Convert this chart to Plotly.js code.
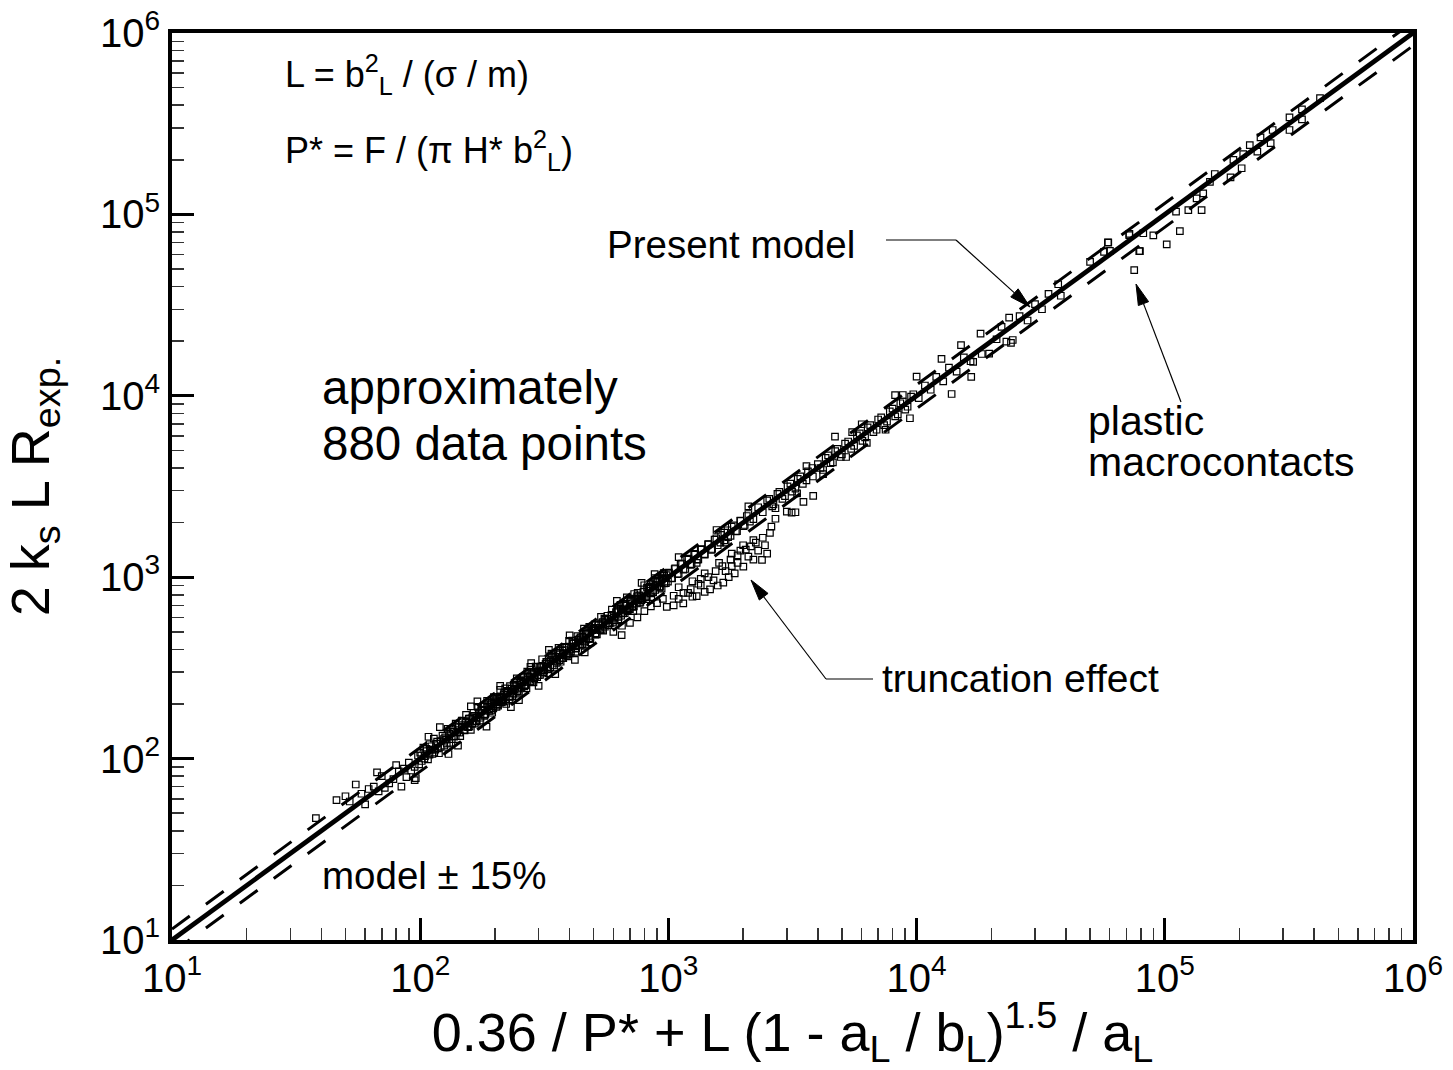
<!DOCTYPE html>
<html><head><meta charset="utf-8">
<script src="https://cdn.plot.ly/plotly-3.0.1.min.js"></script>
<style>html,body{margin:0;padding:0;background:#fff}#chart{width:1453px;height:1070px}</style>
</head><body><div id="chart"></div>
<script>
const lowRange = [[38,47],[46,59],[50,62],[52,58],[55,72],[58,64],[60,56],[62,68],[65,70],[67,84],[68,66],[70,80],[72,69],[75,73],[78,77],[80,92],[82,85],[84,70],[86,88],[88,79],[90,95],[92,86],[95,90],[95,76],[96,78],[98,104],[99,93]];
const range100 = [[100,108],[101.5,97],[103,115],[104.5,103],[106,110],[107.5,99],[109,120],[110.5,112],[112,106],[113.5,129],[115,112],[117,124],[119,107],[121,125],[123,134],[125,118],[127,127],[129,146],[131,122],[133,140],[135,146],[137,132],[139,156],[141,140],[143,149],[145,133],[147,162],[149,150],[151,143],[153,174],[155,150],[157,166],[160,144],[162,167],[164,179],[166,156],[168,168],[171,193],[174,162],[177,186],[180,194],[183,176],[186,208],[189,187],[192,200],[195,179],[198,218],[108,132],[130,106],[160,194],[185,150],[120,149],[142,118],[170,207]];
const range100b = [[101,104],[104,100],[106,113],[109,105],[111,117],[114,108],[116,121],[118,114],[121,116],[124,128],[126,131],[128,121],[131,137],[134,128],[136,141],[139,133],[142,149],[144,139],[147,153],[150,144],[153,158],[156,149],[159,166],[162,156],[165,172],[168,161],[172,180],[175,168],[178,184],[182,174],[186,193],[190,183],[194,203],[197,189]];
const range200 = [[202,204],[206,196],[210,239],[214,208],[218,231],[222,200],[226,233],[230,251],[235,221],[240,240],[245,277],[250,233],[255,268],[260,281],[265,254],[270,302],[275,272],[280,291],[286,263],[292,321],[298,301],[304,289],[310,353],[316,307],[322,341],[328,295],[334,344],[340,371],[347,326],[354,354],[361,408],[368,342],[375,394],[382,413],[390,374],[398,446],[406,402],[414,431],[422,388],[430,473],[439,443],[448,426],[457,521],[466,452],[475,504],[485,437],[495,510],[204,214],[212,210],[220,244],[228,212],[238,255],[248,243],[258,263],[268,244],[278,320],[290,281],[302,320],[314,320],[326,310],[338,379],[350,364],[364,349],[378,382],[394,366],[410,447],[426,417],[444,466],[462,425],[480,533],[210,252],[250,210],[300,252],[280,336],[350,292],[400,478],[420,350],[460,385],[232,192],[330,398]];
const range200b = [[201,210],[205,199],[209,217],[213,204],[217,226],[221,213],[225,236],[229,220],[233,243],[237,228],[242,251],[246,236],[251,262],[256,246],[261,273],[266,255],[272,283],[277,266],[283,296],[288,277],[294,306],[300,288],[307,321],[313,300],[320,333],[327,313],[335,349],[342,328],[350,364],[357,343],[365,381],[373,358],[381,397],[389,373],[397,414],[405,389],[414,431],[423,406],[432,451],[441,423],[451,470],[460,442],[470,490],[480,461],[490,511]];
const range500 = [[505,550],[515,484],[525,525],[535,605],[546,508],[557,585],[568,613],[580,557],[592,663],[604,598],[616,641],[628,578],[641,705],[654,661],[667,634],[680,775],[694,673],[708,750],[722,650],[737,759],[752,820],[767,721],[783,783],[799,903],[815,758],[832,874],[849,917],[866,831],[884,990],[902,893],[920,957],[939,864],[958,1054],[977,987],[996,946],[510,525],[530,514],[552,591],[574,580],[598,562],[622,659],[648,635],[674,701],[700,665],[728,808],[757,757],[788,764],[820,877],[853,776],[888,906],[924,887],[962,1020],[600,500],[650,540],[700,560],[750,600],[800,650],[850,690],[900,720],[950,760],[648,479],[620,740],[780,930],[880,1040]];
const range500b = [[500,521],[510,490],[521,543],[532,511],[543,566],[555,533],[567,591],[579,556],[591,616],[604,580],[617,643],[630,605],[643,670],[657,631],[671,699],[685,658],[700,730],[715,686],[730,761],[746,716],[762,794],[778,747],[795,829],[812,780],[830,865],[848,814],[866,903],[885,850],[904,942],[923,886],[943,983],[963,925],[984,1026]];
const band150c = [[152,160],[158,150],[163,171],[169,160],[176,184],[181,172],[188,197],[193,184],[199,207],[203,193],[208,219],[216,206],[223,234],[231,219],[239,251],[247,235],[254,266],[263,250],[271,285],[279,266],[287,301],[296,281],[305,320],[315,299],[324,340],[334,318],[344,361],[355,337],[366,384],[377,358],[388,408],[400,380],[412,433],[425,404],[438,460],[451,428],[465,488],[479,455],[493,518],[508,483],[523,549],[539,512],[556,584],[572,544],[590,620],[608,577],[626,657],[645,613],[664,697],[684,650],[705,740],[726,690],[748,785],[771,732],[794,834],[818,777],[842,884],[868,825],[894,939],[921,875],[948,996],[977,928],[1005,1060],[1035,985],[1065,1120],[1100,1045],[1135,1190],[1170,1110],[1205,1265],[1240,1180],[1280,1345],[1320,1255],[1360,1430],[1400,1330],[1445,1515],[1490,1415],[1535,1610],[1580,1500],[1630,1710],[1680,1595],[1730,1815],[1780,1690],[1835,1930],[1890,1795],[1950,2045],[2010,1910],[2070,2175],[2130,2025]];
const truncation = [[985,687],[1050,700],[1100,760],[1148,718],[1200,820],[1250,780],[1300,787],[1350,900],[1400,830],[1472,857],[1520,960],[1580,900],[1664,933],[1700,1080],[1750,1000],[1800,1150],[1850,1050],[1900,1200],[2004,1143],[2100,1300],[2200,1250],[2300,1400],[2383,1245],[2450,1500],[2500,1350],[2565,1754],[2400,1650],[2200,1600],[2000,1500],[1800,1350],[1600,1200],[1400,1050],[1250,950],[1100,880],[3137,2270],[3250,2280],[3832,2805],[3000,2300],[3500,2600],[1150,820],[1230,860],[1320,920],[1450,1000],[1550,1080],[1650,1150],[1780,1250],[1900,1320],[2050,1420],[2250,1550],[1050,790],[1350,980],[1950,1400],[2150,1480],[2600,1900],[2700,2100]];
const range1000 = [[1000,1050],[1030,990],[1060,1110],[1090,1040],[1120,1180],[1150,1100],[1190,1250],[1230,1170],[1270,1330],[1310,1250],[1350,1420],[1400,1340],[1450,1520],[1500,1430],[1560,1640],[1620,1550],[1680,1760],[1740,1660],[1800,1900],[1870,1790],[1950,2050],[2030,1940],[2100,2230],[2200,2090],[2300,2430],[2400,2280],[2500,2650],[2650,2520],[2800,2950],[2950,2800],[3100,3280],[3250,3080],[3400,3600],[3600,3420],[3800,4000],[1100,1290],[1563,1820],[2100,2460],[1300,1200],[1700,1550],[2700,2400]];
const range2500 = [[2550,2700],[2620,2460],[2750,2880],[2880,2700],[3020,3170],[3150,2960],[3320,3480],[3480,3270],[3650,3830],[3820,3590],[4100,4000],[4300,4550],[4500,4250],[4700,4950],[4950,4600],[5150,5450],[5450,5100],[5750,6050],[6050,5650],[6350,6700],[6700,6300],[7000,7400],[7400,6900],[7800,8200],[8200,7700],[8600,9100],[9000,8400],[9500,9900],[3300,2900],[4200,3700],[5200,4600],[6300,5500],[7500,6500],[3600,4100],[5500,6300],[8800,10100]];
const range4000 = [[4000,4200],[4200,3900],[4400,4700],[4600,4300],[4800,5100],[5000,4750],[5300,5600],[5600,5300],[5900,6200],[6200,5900],[6500,6900],[6900,6500],[7200,7600],[7600,7200],[8000,8500],[8400,7900],[8800,9300],[9200,8700],[9700,10200],[10200,9700],[10800,11400],[11400,10800],[12000,12700],[12800,12000],[13500,14300],[14500,13600],[15500,16300],[16500,15500],[4690,5960],[6010,6970],[8190,10090],[10000,12740],[9400,7520],[12600,15960],[13840,10230],[15100,19050],[18300,17000],[19600,17100],[24400,20300],[23000,19900],[18100,22000],[22000,24000],[23600,27000],[16900,15400],[16600,12700],[24000,19600],[21000,20500]];
const range25k = [[26000,27500],[28000,26000],[30000,32000],[32000,30000],[34000,36500],[37200,41200],[38100,35600],[50000,54800],[56900,62200],[59200,69800],[60100,63000],[71900,76900],[78900,62800],[75300,49300],[81900,78700],[59000,70200],[79400,62800],[89900,76700],[101800,68400],[115000,80900],[72000,78000],[124400,105700],[140700,105700],[111000,103500],[134300,122700],[142800,130600],[152000,151300],[159000,167000],[184000,160000],[189000,199700],[204000,179600],[207000,215000],[220000,241000],[236000,222000],[267000,247000],[272000,292000],[243000,266000],[318000,292000],[318000,343000],[357000,379000],[357000,334000],[422000,437000]];

// model line and +/-15% band endpoints
const lineX = [10, 1000000];
const modelY = [10, 1000000];
const upperY = [11.5, 1150000];
const lowerY = [8.5, 850000];

// tick labels
const majorVals = [10, 100, 1000, 10000, 100000, 1000000];
const majorText = ['10<sup>1</sup>','10<sup>2</sup>','10<sup>3</sup>','10<sup>4</sup>','10<sup>5</sup>','10<sup>6</sup>'];

const minorVals = [];
for (let d = 10; d < 1000000; d *= 10) for (let k = 2; k <= 9; k++) minorVals.push(d * k);

const allPts = [].concat(lowRange, range100, range100b, range200, range200b, range500, range500b, band150c, truncation, range1000, range2500, range4000, range25k);
const dataX = allPts.map(p => p[0]);
const dataY = allPts.map(p => p[1]);

const FONT = '"Liberation Sans", Arial, Helvetica, sans-serif';
const W = 1453, H = 1070, M = {l:172, r:40, t:33, b:130};
const PW = W - M.l - M.r, PH = H - M.t - M.b;
const px = x => (x - M.l) / PW;
const py = y => (H - M.b - y) / PH;

function leader(points) {
  const out = [];
  for (let i = 0; i < points.length - 1; i++) {
    out.push({type:'line', xref:'paper', yref:'paper', x0:px(points[i][0]), y0:py(points[i][1]), x1:px(points[i+1][0]), y1:py(points[i+1][1]), line:{color:'black', width:1.2}});
  }
  return out;
}
function arrow(tail, tip, hl, hw) {
  const dx = tip[0]-tail[0], dy = tip[1]-tail[1], L = Math.hypot(dx, dy);
  const ux = dx/L, uy = dy/L, bx = tip[0]-ux*hl, by = tip[1]-uy*hl, nx = -uy, ny = ux;
  const p1 = [bx+nx*hw, by+ny*hw], p2 = [bx-nx*hw, by-ny*hw];
  return [
    {type:'line', xref:'paper', yref:'paper', x0:px(tail[0]), y0:py(tail[1]), x1:px(bx), y1:py(by), line:{color:'black', width:1.2}},
    {type:'path', xref:'paper', yref:'paper', path:'M'+px(tip[0])+','+py(tip[1])+' L'+px(p1[0])+','+py(p1[1])+' L'+px(p2[0])+','+py(p2[1])+' Z', fillcolor:'black', line:{color:'black', width:1}}
  ];
}

const shapes = [].concat(
  leader([[886,240],[956,240]]), arrow([956,240],[1030,307],21,5.5),
  arrow([1181,402],[1136,284],21,5.5),
  leader([[873,679],[826,679]]), arrow([826,679],[751,580],21,5.5)
);

function txt(x, y, text, size) {
  return {xref:'paper', yref:'paper', x:px(x), y:py(y), xanchor:'left', yanchor:'middle', text:text, showarrow:false, font:{family:FONT, size:size, color:'black'}};
}
const annotations = [
  txt(283, 75, 'L = b<sup>2</sup><sub>L</sub> / (σ / m)', 36),
  txt(283, 150, 'P* = F / (π H* b<sup>2</sup><sub>L</sub>)', 36),
  txt(320, 387, 'approximately', 47.5),
  txt(320, 443, '880 data points', 47.5),
  txt(605, 245, 'Present model', 38.5),
  txt(1086, 421, 'plastic', 41),
  txt(1086, 462, 'macrocontacts', 41),
  txt(880, 678, 'truncation effect', 39),
  txt(320, 875, 'model ± 15%', 38.5)
];

const axisCommon = {
  type:'log', range:[1, 6], tickmode:'array', tickvals:majorVals, ticktext:majorText,
  ticks:'inside', ticklen:22, tickwidth:3, tickcolor:'black',
  showline:true, linewidth:4, linecolor:'black', mirror:true,
  showgrid:false, zeroline:false,
  tickfont:{family:FONT, size:40, color:'black'},
  minor:{tickmode:'array', tickvals:minorVals, ticks:'inside', ticklen:12, tickwidth:1.5, tickcolor:'#333', showgrid:false}
};

const traces = [
  {x:lineX, y:upperY, mode:'lines', line:{color:'black', width:3, dash:'22px,20px'}, hoverinfo:'skip'},
  {x:lineX, y:lowerY, mode:'lines', line:{color:'black', width:3, dash:'22px,20px'}, hoverinfo:'skip'},
  {x:lineX, y:modelY, mode:'lines', line:{color:'black', width:4.8}, hoverinfo:'skip'},
  {x:dataX, y:dataY, mode:'markers', marker:{symbol:'square-open', size:6.5, color:'black', line:{width:1.2, color:'black'}}}
];

const layout = {
  width:W, height:H, margin:M, showlegend:false,
  paper_bgcolor:'white', plot_bgcolor:'white',
  font:{family:FONT, color:'black'},
  xaxis:Object.assign({}, axisCommon, {title:{text:'0.36 / P* + L (1 - a<sub>L</sub> / b<sub>L</sub>)<sup>1.5</sup> / a<sub>L</sub>', font:{family:FONT, size:54, color:'black'}, standoff:18}}),
  yaxis:Object.assign({}, axisCommon, {title:{text:'2 k<sub>s</sub> L R<sub>exp.</sub>', font:{family:FONT, size:54, color:'black'}, standoff:38}}),
  shapes:shapes, annotations:annotations
};

Plotly.newPlot('chart', traces, layout, {staticPlot:true});
</script></body></html>
